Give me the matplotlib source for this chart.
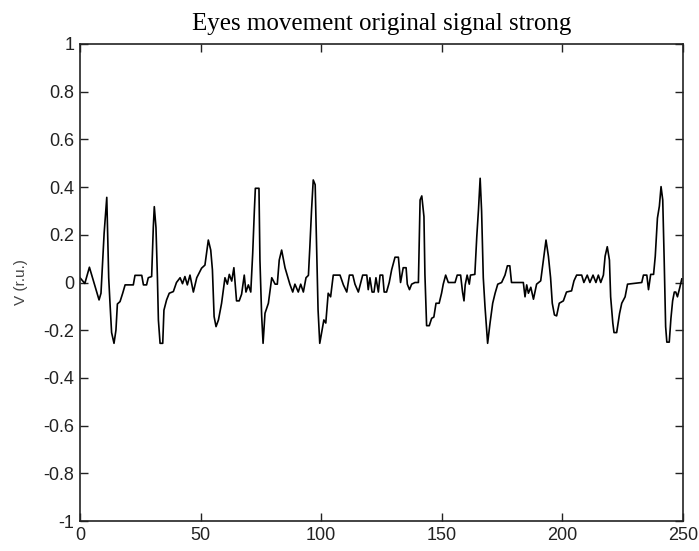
import matplotlib
matplotlib.use("Agg")
import matplotlib.pyplot as plt

# digitized signal vertices (sample index, value)
sample_x = [0, 2, 3.9, 7.9, 8.7, 9.4, 10, 11.1, 11.9, 12.4, 13.1, 14.1, 14.9, 15.5, 16.6,
            17.7, 18.7, 22.1, 22.8, 25.6, 26.3, 27.6, 28.3, 29.7, 30.4, 30.8, 31.5, 32.1,
            32.5, 33.2, 34.3, 34.8, 35.9, 37, 38.7, 40, 41.5, 42.5, 43.5, 44.5, 45.6, 47,
            48.4, 50.4, 51.8, 53.2, 54.2, 54.9, 55.6, 56.4, 57.4, 58.7, 60.1, 61.1, 61.9,
            62.9, 63.8, 64.9, 66, 67, 68.1, 68.8, 69.8, 70.8, 71.6, 72.3, 72.7, 74.2, 74.6,
            75.3, 75.9, 76.7, 78.1, 79.5, 80.9, 81.8, 82.6, 83.6, 85, 87, 88.2, 89.1, 90.5,
            91.5, 92.6, 93.7, 94.7, 95.3, 96, 96.7, 97.5, 98.1, 98.7, 99.4, 100.2, 101.1,
            101.9, 102.9, 103.9, 105, 106.4, 107.8, 109.2, 110.6, 111.7, 113.1, 114, 115.4,
            117.2, 118.9, 119.5, 120.2, 121.1, 121.9, 122.7, 123.7, 124.4, 125.5, 126.1,
            127.1, 128.2, 129.2, 130.6, 132, 132.9, 134, 135.2, 135.7, 136.6, 137.5, 138.9,
            140.3, 140.6, 141, 141.7, 142.6, 143, 143.7, 144.8, 145.8, 146.7, 147.6, 148.9,
            149.9, 150.6, 151.6, 152.7, 155.5, 156.4, 157.8, 158.6, 159.2, 159.7, 160.5,
            161.4, 161.9, 163.7, 164.5, 165.2, 165.9, 166.5, 167.2, 167.9, 168.6, 169, 170,
            171.1, 172.1, 173.2, 174.8, 176.2, 177.2, 178.2, 178.9, 183.8, 184.5, 185.2,
            185.9, 186.9, 188, 189.3, 191, 192.1, 193.2, 194.2, 195.1, 195.8, 196.7, 197.6,
            198.7, 200.4, 201.7, 203.8, 204.8, 205.9, 208, 208.9, 210.3, 211.4, 212.7, 213.9,
            214.9, 215.9, 217, 217.7, 218.6, 219.5, 220, 220.9, 221.4, 222.5, 223.7, 224.6,
            226, 227, 232.9, 233.6, 235, 235.7, 236.6, 237.8, 238.5, 239.4, 240.2, 240.9,
            241.6, 242.2, 242.8, 243.3, 244.3, 245, 245.7, 246.4, 247, 247.7, 248.7, 249.5]
signal = [0.02, -0.004, 0.064, -0.073, -0.045, 0.094, 0.206, 0.357, 0.02, -0.08, -0.21,
          -0.255, -0.2, -0.09, -0.08, -0.045, -0.01, -0.01, 0.03, 0.03, -0.01, -0.01, 0.02,
          0.025, 0.234, 0.318, 0.23, 0.02, -0.157, -0.255, -0.255, -0.116, -0.073, -0.045,
          -0.038, 0.0, 0.02, -0.005, 0.025, -0.01, 0.031, -0.04, 0.02, 0.06, 0.073, 0.178,
          0.136, 0.053, -0.143, -0.185, -0.157, -0.087, 0.02, -0.007, 0.034, 0.006, 0.062,
          -0.077, -0.077, -0.049, 0.031, -0.04, -0.01, -0.04, 0.122, 0.304, 0.395, 0.395,
          0.094, -0.136, -0.255, -0.129, -0.087, 0.02, -0.007, -0.007, 0.094, 0.136, 0.062,
          -0.007, -0.04, -0.007, -0.04, -0.007, -0.04, 0.02, 0.03, 0.15, 0.304, 0.43, 0.41,
          0.15, -0.115, -0.255, -0.21, -0.157, -0.17, -0.045, -0.06, 0.031, 0.031, 0.031,
          -0.01, -0.04, 0.031, 0.031, -0.007, -0.04, 0.031, 0.031, -0.03, 0.02, -0.04, -0.04,
          0.02, -0.04, 0.031, 0.031, -0.04, -0.04, 0.0, 0.053, 0.106, 0.106, 0.0, 0.062,
          0.062, -0.007, -0.03, -0.007, 0.0, 0.0, 0.15, 0.346, 0.363, 0.276, 0.034, -0.181,
          -0.181, -0.15, -0.145, -0.087, -0.087, -0.045, -0.007, 0.031, 0.0, 0.0, 0.031,
          0.031, -0.04, -0.077, -0.01, 0.031, -0.007, 0.031, 0.034, 0.192, 0.304, 0.437, 0.3,
          0.02, -0.1, -0.2, -0.255, -0.17, -0.087, -0.045, -0.007, 0.0, 0.031, 0.07, 0.07,
          0.0, 0.0, -0.06, -0.01, -0.045, -0.02, -0.07, -0.007, 0.007, 0.094, 0.178, 0.11,
          0.02, -0.087, -0.136, -0.14, -0.087, -0.077, -0.04, -0.035, 0.007, 0.031, 0.031,
          0.0, 0.031, 0.0, 0.031, 0.0, 0.031, 0.0, 0.031, 0.11, 0.15, 0.094, -0.06, -0.17,
          -0.21, -0.21, -0.13, -0.087, -0.06, -0.007, 0.0, 0.031, 0.031, -0.03, 0.034,
          0.034, 0.11, 0.27, 0.32, 0.402, 0.346, 0.094, -0.185, -0.25, -0.25, -0.15, -0.077,
          -0.04, -0.04, -0.06, -0.02, 0.015]

x_ticks = [0, 50, 100, 150, 200, 250]
y_ticks = [-1, -0.8, -0.6, -0.4, -0.2, 0, 0.2, 0.4, 0.6, 0.8, 1]
y_tick_labels = ['-1', '-0.8', '-0.6', '-0.4', '-0.2', '0', '0.2', '0.4', '0.6', '0.8', '1']

tick_font = ['Liberation Sans Narrow', 'Liberation Sans', 'DejaVu Sans']

fig = plt.figure(figsize=(6.99, 5.51), dpi=100)
ax = fig.add_axes([80 / 699, 30 / 551, 603 / 699, 477 / 551])

ax.plot(sample_x, signal, color='black', linewidth=1.2)

ax.set_xlim(0, 250)
ax.set_ylim(-1, 1)
ax.set_xticks(x_ticks)
ax.set_yticks(y_ticks)
ax.set_yticklabels(y_tick_labels)
ax.tick_params(direction='in', length=6, width=1, top=True, right=True,
               labelsize=13, colors='#222222', pad=4)
for lbl in ax.get_xticklabels() + ax.get_yticklabels():
    lbl.set_family(tick_font)
for sp in ax.spines.values():
    sp.set_linewidth(1.2)
    sp.set_color('#222222')

ax.set_ylabel('V (r.u.)', fontsize=11, color='#444444', family=tick_font, labelpad=11)
ax.set_title('Eyes movement original signal strong', fontsize=18,
             family=['Liberation Serif', 'DejaVu Serif'], pad=10)

fig.savefig('out.png', dpi=100)
